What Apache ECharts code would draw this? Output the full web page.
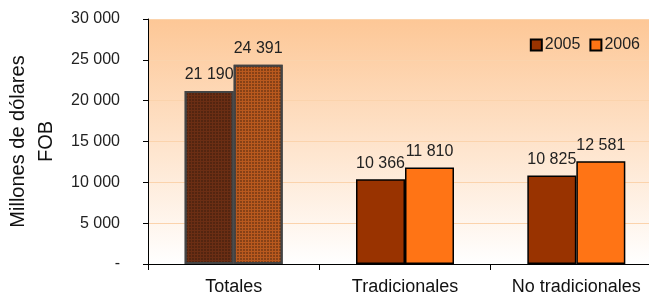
<!DOCTYPE html>
<html><head><meta charset="utf-8">
<script src="https://cdn.jsdelivr.net/npm/echarts@6/dist/echarts.min.js"></script>
<style>html,body{margin:0;padding:0;background:#fff}#c{width:649px;height:300px}</style>
</head><body><div id="c"></div>
<script>
const categories = ['Totales', 'Tradicionales', 'No tradicionales'];
const seriesNames = ['2005', '2006'];
const values2005 = [21190, 10366, 10825];
const values2006 = [24391, 11810, 12581];

const fmt = v => v === 0 ? '-' : String(v).replace(/\B(?=(\d{3})+(?!\d))/g, ' ');
const font = 'Arial, "Liberation Sans", sans-serif';

function mkData(vals, totalColor) {
  return vals.map((v, i) => i === 0 ? {
    value: v,
    itemStyle: {
      color: totalColor, borderColor: '#444', borderWidth: 2,
      decal: { symbol: 'rect', symbolSize: 1, dashArrayX: [[2, 1]], dashArrayY: [2, 1], color: 'rgba(40,20,10,0.35)', rotation: 0 }
    }
  } : v);
}

const chart = echarts.init(document.getElementById('c'), null, { renderer: 'canvas' });
chart.setOption({
  animation: false,
  textStyle: { fontFamily: font },
  grid: {
    left: 148, right: -13, top: 19, bottom: 36, show: true, borderWidth: 0,
    outerBoundsMode: 'none', containLabel: false,
    backgroundColor: new echarts.graphic.LinearGradient(0, 0, 0, 1, [
      { offset: 0, color: '#fdc796' }, { offset: 1, color: '#ffffff' }
    ])
  },
  legend: {
    right: 4, top: 32, itemWidth: 11, itemHeight: 11, itemGap: 9,
    icon: 'rect',
    textStyle: { fontSize: 16, color: '#222', fontFamily: font, padding: [0, 0, 0, -2] },
    data: seriesNames
  },
  xAxis: {
    type: 'category', data: categories,
    axisLine: { lineStyle: { color: '#000', width: 1 } },
    axisTick: { show: true, length: 6, lineStyle: { color: '#000' } },
    axisLabel: { fontSize: 18, color: '#111', margin: 14, fontFamily: font }
  },
  yAxis: {
    type: 'value', min: 0, max: 30000, interval: 5000,
    name: 'Millones de dólares\nFOB', nameLocation: 'middle', nameRotate: 90, nameGap: 86,
    nameTextStyle: { fontSize: 20, color: '#111', lineHeight: 28, fontFamily: font },
    axisLine: { show: true, lineStyle: { color: '#000', width: 1 } },
    axisTick: { show: true, length: 5, lineStyle: { color: '#000' } },
    axisLabel: { fontSize: 16, color: '#222', margin: 28, formatter: fmt, fontFamily: font },
    splitLine: { show: true, lineStyle: { color: '#fbd3ac', width: 1 } }
  },
  series: [
    {
      name: seriesNames[0], type: 'bar', barWidth: '28.6%', barGap: '0%',
      itemStyle: { color: '#993300', borderColor: '#000', borderWidth: 1.5 },
      label: { show: true, position: 'top', distance: 8, fontSize: 16, color: '#222', formatter: p => fmt(p.value), fontFamily: font },
      data: mkData(values2005, '#6b2e14')
    },
    {
      name: seriesNames[1], type: 'bar', barWidth: '28.6%', barGap: '0%',
      itemStyle: { color: '#ff7415', borderColor: '#000', borderWidth: 1.5 },
      label: { show: true, position: 'top', distance: 8, fontSize: 16, color: '#222', formatter: p => fmt(p.value), fontFamily: font },
      data: mkData(values2006, '#b9591e')
    }
  ]
});
</script></body></html>
